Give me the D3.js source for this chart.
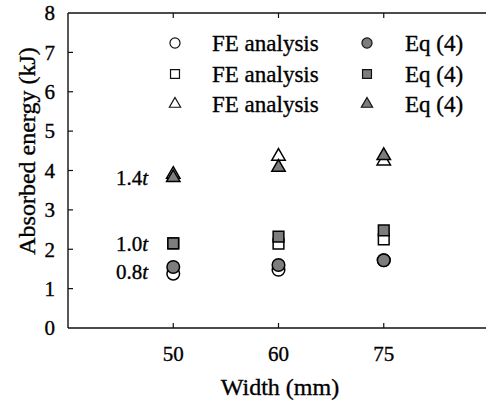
<!DOCTYPE html>
<html>
<head>
<meta charset="utf-8">
<script src="https://cdn.jsdelivr.net/npm/d3@7/dist/d3.min.js"></script>
<style>
  body { margin: 0; background: #fff; }
  svg text { font-family: 'Liberation Serif', 'Times New Roman', serif; fill: #000; stroke: #000; stroke-width: 0.35px; }
</style>
</head>
<body>
<div id="chart"></div>
<script>
// widths on the x axis (categorical, evenly spaced)
const widths = ["50", "60", "75"];
const yTicks = [0, 1, 2, 3, 4, 5, 6, 7, 8];

// absorbed energy (kJ), FE analysis vs Eq (4), for each thickness
const fe08 = [1.38, 1.48, 1.72];
const eq08 = [1.55, 1.60, 1.72];
const fe10 = [2.15, 2.14, 2.25];
const eq10 = [2.15, 2.32, 2.48];
const fe14 = [3.90, 4.36, 4.24];
const eq14 = [3.82, 4.08, 4.38];

const thickLabels = ["0.8", "1.0", "1.4"];
const thickAt = [1.42, 2.15, 3.82];   // where the labels sit, in kJ

const width = 486, height = 401;
let margin = { left: 68, top: 13, bottom: 73 };
const serif = "'Liberation Serif', 'Times New Roman', serif";

let svg = d3.select('#chart').append('svg')
    .attr('width', width)
    .attr('height', height)
    .attr('font-family', serif);

let x = d3.scaleLinear().domain([0, 4]).range([margin.left, 489]);
let y = d3.scaleLinear().domain([0, 8]).range([height - margin.bottom, margin.top]);

// frame
let frame = svg.append('g').attr('stroke', '#111').attr('stroke-width', 1.4).attr('fill', 'none');
frame.append('line').attr('x1', x(0)).attr('x2', x(4)).attr('y1', y(0)).attr('y2', y(0));
frame.append('line').attr('x1', x(0)).attr('x2', x(4)).attr('y1', y(8)).attr('y2', y(8));
frame.append('line').attr('x1', x(0)).attr('x2', x(0)).attr('y1', y(0)).attr('y2', y(8));

// inward ticks
let ticks = svg.append('g').attr('stroke', '#111').attr('stroke-width', 1.2);
widths.forEach((w, i) => {
    ticks.append('line').attr('x1', x(i + 1)).attr('x2', x(i + 1)).attr('y1', y(0)).attr('y2', y(0) - 5);
    ticks.append('line').attr('x1', x(i + 1)).attr('x2', x(i + 1)).attr('y1', y(8)).attr('y2', y(8) + 5);
});
yTicks.slice(1, -1).forEach(t => {
    ticks.append('line').attr('x1', x(0)).attr('x2', x(0) + 5).attr('y1', y(t)).attr('y2', y(t));
});

// tick labels
svg.append('g').selectAll('text').data(yTicks).enter().append('text')
    .attr('x', 55)
    .attr('y', d => y(d))
    .attr('dy', '0.35em')
    .attr('text-anchor', 'end')
    .attr('font-family', serif)
    .attr('font-size', 21)
    .text(d => d);

svg.append('g').selectAll('text').data(widths).enter().append('text')
    .attr('x', (d, i) => x(i + 1))
    .attr('y', 361)
    .attr('text-anchor', 'middle')
    .attr('font-family', serif)
    .attr('font-size', 21)
    .text(d => d);

// axis titles
svg.append('text')
    .attr('x', 280).attr('y', 395)
    .attr('text-anchor', 'middle')
    .attr('font-family', serif)
    .attr('font-size', 24)
    .text('Width (mm)');

svg.append('text')
    .attr('transform', 'translate(27,' + 151 + ') rotate(-90)')
    .attr('dy', '0.35em')
    .attr('text-anchor', 'middle')
    .attr('font-family', serif)
    .attr('font-size', 24)
    .text('Absorbed energy (kJ)');

// thickness labels
let tl = svg.append('g').selectAll('text').data(thickLabels).enter().append('text')
    .attr('x', 148)
    .attr('y', (d, i) => y(thickAt[i]))
    .attr('dy', '0.35em')
    .attr('text-anchor', 'end')
    .attr('font-family', serif)
    .attr('font-size', 21);
tl.append('tspan').text(d => d);
tl.append('tspan').attr('font-style', 'italic').text('t');

// markers
const openFill = '#fff', eqFill = '#7d7d7d';
const series = [
    { vals: fe08, shape: d3.symbolCircle, size: 125, fill: openFill },
    { vals: fe10, shape: d3.symbolSquare, size: 115, fill: openFill },
    { vals: fe14, shape: d3.symbolTriangle, size: 78, fill: openFill },
    { vals: eq08, shape: d3.symbolCircle, size: 125, fill: eqFill },
    { vals: eq10, shape: d3.symbolSquare, size: 115, fill: eqFill },
    { vals: eq14, shape: d3.symbolTriangle, size: 78, fill: eqFill }
];

series.forEach(s => {
    svg.append('g').selectAll('path').data(s.vals).enter().append('path')
        .attr('d', d3.symbol().type(s.shape).size(s.size))
        .attr('transform', (d, i) => 'translate(' + x(i + 1) + ',' + y(d) + ')')
        .attr('fill', s.fill)
        .attr('stroke', '#000')
        .attr('stroke-width', 1.5);
});

// legend
const legendShapes = [d3.symbolCircle, d3.symbolSquare, d3.symbolTriangle];
const legendSizes = [80, 80, 55];
const legendY = [43, 74, 104];
let legend = svg.append('g');
legendShapes.forEach((sh, i) => {
    legend.append('path')
        .attr('d', d3.symbol().type(sh).size(legendSizes[i]))
        .attr('transform', 'translate(175,' + legendY[i] + ')')
        .attr('fill', openFill).attr('stroke', '#111').attr('stroke-width', 1.2);
    legend.append('text')
        .attr('x', 212).attr('y', legendY[i]).attr('dy', '0.35em')
        .attr('font-family', serif)
        .attr('font-size', 23).text('FE analysis');
    legend.append('path')
        .attr('d', d3.symbol().type(sh).size(legendSizes[i]))
        .attr('transform', 'translate(367,' + legendY[i] + ')')
        .attr('fill', eqFill).attr('stroke', '#111').attr('stroke-width', 1.2);
    legend.append('text')
        .attr('x', 405).attr('y', legendY[i]).attr('dy', '0.35em')
        .attr('font-family', serif)
        .attr('font-size', 23).text('Eq (4)');
});
</script>
</body>
</html>
